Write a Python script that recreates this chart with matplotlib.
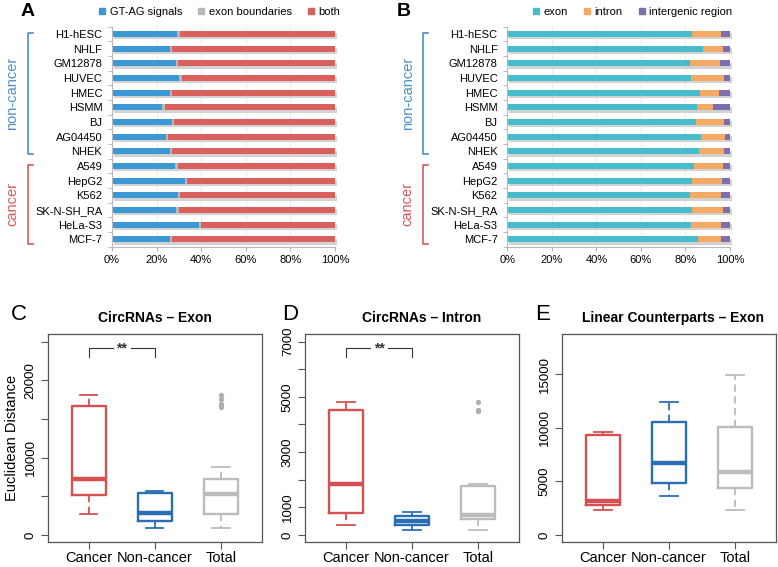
import matplotlib
matplotlib.use('Agg')
import matplotlib.pyplot as plt
from matplotlib.lines import Line2D
from matplotlib.transforms import blended_transform_factory
import numpy as np

plt.rcParams['font.family'] = ['Liberation Sans', 'DejaVu Sans']

W, H = 778, 567

# ---- Panels A and B: stacked percentages per cell line ----
cell_lines = ['H1-hESC', 'NHLF', 'GM12878', 'HUVEC', 'HMEC', 'HSMM', 'BJ', 'AG04450', 'NHEK',
              'A549', 'HepG2', 'K562', 'SK-N-SH_RA', 'HeLa-S3', 'MCF-7']

gtag = np.array([29.2, 25.9, 28.6, 30.2, 26.0, 22.6, 27.0, 24.3, 26.2,
                 28.4, 32.8, 29.4, 28.9, 39.1, 26.0])
exon_bound = np.array([1.1, 1.0, 1.2, 1.1, 0.9, 1.3, 1.0, 1.0, 0.9,
                       1.0, 0.9, 1.0, 1.0, 0.9, 1.0])
both = 100 - gtag - exon_bound

exon = np.array([82.9, 87.7, 82.0, 82.3, 86.5, 85.0, 84.7, 86.8, 86.1,
                 84.0, 83.1, 82.0, 83.1, 82.3, 85.8])
intron = np.array([12.9, 9.3, 13.5, 15.0, 8.7, 7.5, 12.6, 10.8, 11.2,
                   12.7, 13.2, 14.0, 13.6, 13.7, 10.2])
intergenic = 100 - exon - intron

# ---- Panels C, D, E: boxplot summaries (Cancer, Non-cancer, Total) ----
groups = ['Cancer', 'Non-cancer', 'Total']

c_low = [2700, 850, 850]
c_q1 = [5150, 1850, 2700]
c_med = [7250, 2900, 5300]
c_q3 = [16650, 5400, 7250]
c_high = [18050, 5750, 8800]
c_out = [[], [], [16550, 16900, 17650, 18050]]

d_low = [350, 160, 160]
d_q1 = [800, 370, 570]
d_med = [1850, 510, 720]
d_q3 = [4520, 690, 1770]
d_high = [4820, 830, 1860]
d_out = [[], [], [4480, 4540, 4820]]

e_low = [2330, 3660, 2330]
e_q1 = [2830, 4880, 4380]
e_med = [3170, 6680, 5900]
e_q3 = [9350, 10500, 10060]
e_high = [9570, 12420, 14880]
e_out = [[], [], []]

box_colors = ['#d65052', '#2a6eb4', '#bcbcbc']
blue_lab = '#4a90c8'
red_lab = '#d55a5a'

fig = plt.figure(figsize=(W / 100, H / 100), dpi=100)


def px_axes(x0, y0, x1, y1):
    return fig.add_axes([x0 / W, 1 - y1 / H, (x1 - x0) / W, (y1 - y0) / H])


def stacked(ax, parts, colors, labels, leg_x):
    y = np.arange(len(cell_lines))
    total = np.sum(parts, axis=0)
    ax.barh(y + 0.16, total, left=0.7, height=0.42, color='#d2d2d2', zorder=1, clip_on=False)
    left = np.zeros(len(cell_lines))
    for vals, col in zip(parts, colors):
        ax.barh(y, vals, left=left, height=0.42, color=col, zorder=2)
        left += vals
    ax.set_xlim(0, 100)
    ax.set_ylim(len(cell_lines) - 0.5, -0.5)
    ax.set_yticks(y)
    ax.set_yticklabels(cell_lines, fontsize=8)
    ax.set_yticks(np.arange(len(cell_lines) + 1) - 0.5, minor=True)
    ax.tick_params(axis='y', which='major', length=0, pad=7)
    ax.tick_params(axis='y', which='minor', length=3, color='#b0b0b0', direction='out')
    ax.set_xticks(np.arange(0, 101, 20))
    ax.set_xticklabels(['%d%%' % v for v in range(0, 101, 20)], fontsize=8)
    ax.tick_params(axis='x', length=3, color='#b0b0b0', pad=3)
    ax.xaxis.grid(True, color='#e8e8e8', lw=0.6)
    ax.set_axisbelow(True)
    for s in ['top', 'right']:
        ax.spines[s].set_visible(False)
    for s in ['left', 'bottom']:
        ax.spines[s].set_color('#b8b8b8')
        ax.spines[s].set_linewidth(0.8)
    handles = [Line2D([], [], marker='s', ls='none', color=c, markersize=4.5) for c in colors]
    ax.legend(handles, labels, ncol=3, loc='center', bbox_to_anchor=(leg_x, 1.067),
              frameon=False, fontsize=8, handlelength=0.8, handletextpad=0.3,
              columnspacing=1.3, borderaxespad=0)

    # group brackets
    tr = blended_transform_factory(ax.transAxes, ax.transData)
    for (y0, y1, col, txt) in [(-0.05, 8.2, blue_lab, 'non-cancer'),
                               (8.9, 14.3, red_lab, 'cancer')]:
        ax.plot([-0.355, -0.378, -0.378, -0.355], [y0, y0, y1, y1], color=col, lw=1.2,
                transform=tr, clip_on=False)
        ax.text(-0.447, (y0 + y1) / 2, txt, color=col, rotation=90, fontsize=10.5,
                ha='center', va='center', transform=tr)


axA = px_axes(112, 26.7, 335, 246.7)
stacked(axA, [gtag, exon_bound, both], ['#3b98d4', '#b8b8b8', '#d9605c'],
        ['GT-AG signals', 'exon boundaries', 'both'], 0.48)
axB = px_axes(507.3, 26.7, 730, 246.7)
stacked(axB, [exon, intron, intergenic], ['#46bccc', '#f4aa62', '#7d6eb0'],
        ['exon', 'intron', 'intergenic region'], 0.56)

fig.text(28 / W, 1 - 12 / H, 'A', fontsize=14, fontweight='bold', ha='center', va='center')
fig.text(404 / W, 1 - 12 / H, 'B', fontsize=14, fontweight='bold', ha='center', va='center')


def boxes(ax, low, q1, med, q3, high, out, ylim, yticks, ylabels, sig=None):
    stats = [dict(whislo=a, q1=b, med=c, q3=d, whishi=e, fliers=f)
             for a, b, c, d, e, f in zip(low, q1, med, q3, high, out)]
    art = ax.bxp(stats, positions=[1, 2, 3], widths=0.52,
                 boxprops=dict(lw=1.7), medianprops=dict(lw=3.2),
                 whiskerprops=dict(lw=1.3, ls=(0, (4, 2.5))), capprops=dict(lw=1.3),
                 flierprops=dict(marker='o', markersize=2.8, markerfacecolor='#b0b0b0',
                                 markeredgecolor='#b0b0b0'))
    for i, col in enumerate(box_colors):
        art['boxes'][i].set_color(col)
        art['medians'][i].set_color(col)
        for k in (2 * i, 2 * i + 1):
            art['whiskers'][k].set_color(col)
            art['caps'][k].set_color(col)
    ax.set_xlim(0.38, 3.62)
    ax.set_ylim(*ylim)
    ax.set_xticks([1, 2, 3])
    ax.set_xticklabels(groups, fontsize=10.5)
    ax.set_yticks(yticks)
    ax.set_yticklabels(ylabels, fontsize=9.5, rotation=90, va='center')
    ax.tick_params(length=5, color='#555555', width=0.8)
    ax.tick_params(axis='x', pad=1.5)
    ax.tick_params(axis='y', pad=3)
    for s in ax.spines.values():
        s.set_color('#555555')
        s.set_linewidth(0.9)
    if sig is not None:
        y_top, y_end = sig
        ax.plot([1, 1, 1.36], [y_end, y_top, y_top], color='#333333', lw=0.8)
        ax.plot([1.64, 2, 2], [y_top, y_top, y_end], color='#333333', lw=0.8)
        ax.text(1.5, y_top, '**', ha='center', va='center', fontsize=10,
                fontweight='bold', color='#333333')


axC = px_axes(47.7, 334, 262, 542)
boxes(axC, c_low, c_q1, c_med, c_q3, c_high, c_out, (-900, 26000),
      np.arange(0, 25001, 5000), ['0', '', '10000', '', '20000', ''], sig=(24130, 23000))
axC.set_ylabel('Euclidean Distance', fontsize=10.5, labelpad=4)

axD = px_axes(305, 334, 519, 542)
boxes(axD, d_low, d_q1, d_med, d_q3, d_high, d_out, (-260, 7280),
      np.arange(0, 7001, 1000), ['0', '1000', '', '3000', '', '5000', '', '7000'],
      sig=(6765, 6440))

axE = px_axes(562, 334, 776, 542)
boxes(axE, e_low, e_q1, e_med, e_q3, e_high, e_out, (-650, 18730),
      np.arange(0, 15001, 5000), ['0', '5000', '10000', '15000'])

titles = [('C', 19, 'CircRNAs \u2013 Exon', 155),
          ('D', 290, 'CircRNAs \u2013 Intron', 422),
          ('E', 543, 'Linear Counterparts \u2013 Exon', 673)]
for letter, lx, title, tx in titles:
    fig.text(lx / W, 1 - 315 / H, letter, fontsize=16, ha='center', va='center')
    fig.text(tx / W, 1 - 318 / H, title, fontsize=10, fontweight='bold',
             ha='center', va='center')

fig.savefig('out.png', dpi=100)
